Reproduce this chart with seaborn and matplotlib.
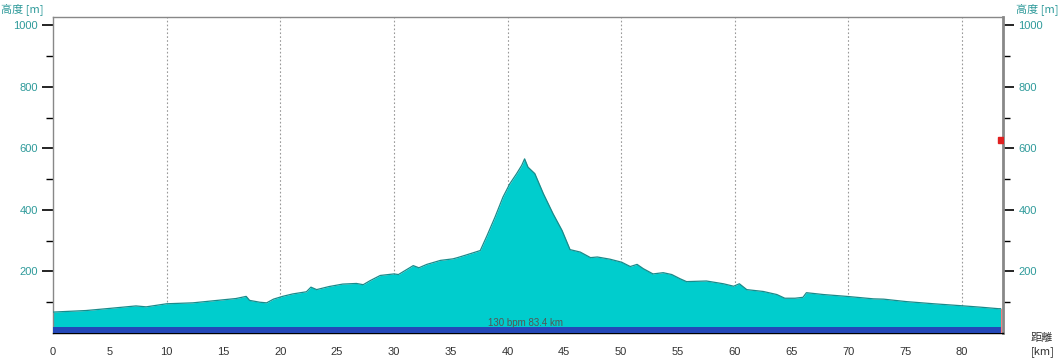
import numpy as np
import pandas as pd
import matplotlib
matplotlib.use("Agg")
import matplotlib.pyplot as plt
import seaborn as sns

# ---- data ----
distance_km = [0.0, 2.9, 5.0, 7.3, 8.2, 10.0, 12.3, 15.0, 16.1, 17.0, 17.3, 18.2, 18.8, 19.4,
               20.2, 21.1, 22.3, 22.7, 23.2, 24.3, 25.5, 26.7, 27.3, 27.9, 28.8, 30.0, 30.4,
               31.7, 32.2, 32.9, 34.1, 35.2, 35.6, 36.4, 37.6, 38.2, 38.9, 39.6, 40.2, 40.8,
               41.25, 41.5, 41.8, 42.4, 43.15, 44.0, 44.8, 45.5, 46.4, 47.3, 47.9, 49.0, 50.05,
               50.8, 51.4, 51.95, 52.8, 53.7, 54.45, 55.2, 55.75, 57.5, 59.0, 59.9, 60.4, 61.05,
               62.5, 63.7, 64.4, 65.3, 66.0, 66.3, 67.8, 69.85, 72.2, 73.1, 75.1, 77.5, 79.8,
               81.6, 83.2, 83.4]
elevation_m = [68, 73, 80, 88, 85, 95, 98, 108, 112, 119, 106, 100, 98, 110,
               119, 127, 134, 149, 141, 151, 159, 161, 157, 170, 187, 192, 190,
               219, 212, 223, 236, 241, 245, 254, 268, 317, 377, 442, 485, 518,
               545, 566, 539, 518, 453, 388, 333, 271, 263, 245, 247, 240, 230,
               216, 223, 209, 192, 196, 190, 176, 167, 169, 160, 152, 160, 141,
               135, 125, 113, 113, 116, 131, 125, 119, 111, 110, 102, 95, 89,
               84, 79, 79]
band_top_m = 21
total_km = 83.4
annotation = "130 bpm 83.4 km"
marker_km = [83.4]
marker_m = [628]
x_ticks = list(range(0, 85, 5))
grid_km = list(range(10, 90, 10))
y_major = [200, 400, 600, 800, 1000]
y_minor = [100, 300, 500, 700, 900]

df = pd.DataFrame({"distance": distance_km, "elevation": elevation_m})

sns.set_style("white")
plt.rcParams["font.family"] = ["Liberation Sans", "Noto Sans CJK JP", "DejaVu Sans"]

fig = plt.figure(figsize=(10.6, 3.6), dpi=100)
ax = fig.add_axes([53 / 1060, 27 / 360, 950 / 1060, 316 / 360])

teal = "#00CDCD"
edge = "#1A8A8A"
blue = "#2448B8"
label_col = "#2E9A9A"

ax.fill_between(df["distance"], 0, df["elevation"], color=teal, linewidth=0, zorder=2)
sns.lineplot(data=df, x="distance", y="elevation", ax=ax, color=edge, linewidth=0.9, zorder=3)
ax.fill_between([0, total_km], 0, band_top_m, color=blue, linewidth=0, zorder=4)
ax.plot([total_km, total_km], [0, elevation_m[-1]], color="#F08080", linewidth=0.8, zorder=4)
ax.plot(marker_km, marker_m, marker="s", markersize=4, color="#E02020", linestyle="none", zorder=5)

ax.text(41.6, 32, annotation, ha="center", va="center", fontsize=7, color="#555555", zorder=6)

for g in grid_km:
    ax.axvline(g, color="#999999", linestyle=(0, (1.5, 2)), linewidth=0.8, zorder=1)

ax.set_xlim(0, 83.6)
ax.set_ylim(0, 1027)
ax.set_xticks(x_ticks)
ax.set_xticklabels([str(t) for t in x_ticks])
ax.set_yticks(y_major)
ax.set_yticks(y_minor, minor=True)
ax.set_yticklabels([str(v) for v in y_major])
ax.set_xlabel("")
ax.set_ylabel("")

ax.tick_params(axis="x", direction="out", length=8, width=1.2, color="black",
               labelsize=8, labelcolor="#333333", pad=2)
ax.tick_params(axis="y", which="major", direction="out", length=8, width=1.2, color="black",
               labelsize=8, labelcolor=label_col, left=True, right=True,
               labelleft=True, labelright=True, pad=3)
ax.tick_params(axis="y", which="minor", direction="out", length=5, width=1.0, color="black",
               left=True, right=True)

for side in ["left", "top"]:
    ax.spines[side].set_color("#888888")
    ax.spines[side].set_linewidth(1.0)
ax.spines["right"].set_color("#888888")
ax.spines["right"].set_linewidth(2.0)
ax.spines["bottom"].set_color("black")
ax.spines["bottom"].set_linewidth(1.0)

fig.text(1 / 1060, 1 - 9 / 360, "高度 [m]", fontsize=8, color=label_col, ha="left", va="center",
         family=["Noto Sans CJK JP", "DejaVu Sans"])
fig.text(1058 / 1060, 1 - 9 / 360, "高度 [m]", fontsize=8, color=label_col, ha="right", va="center",
         family=["Noto Sans CJK JP", "DejaVu Sans"])
fig.text(1031 / 1060, 1 - 338 / 360, "距離", fontsize=8, color="#333333", ha="left", va="center",
         family=["Noto Sans CJK JP", "DejaVu Sans"])
fig.text(1031 / 1060, 1 - 352 / 360, "[km]", fontsize=8, color="#333333", ha="left", va="center",
         family=["Noto Sans CJK JP", "DejaVu Sans"])

fig.savefig("out.png", dpi=100)
